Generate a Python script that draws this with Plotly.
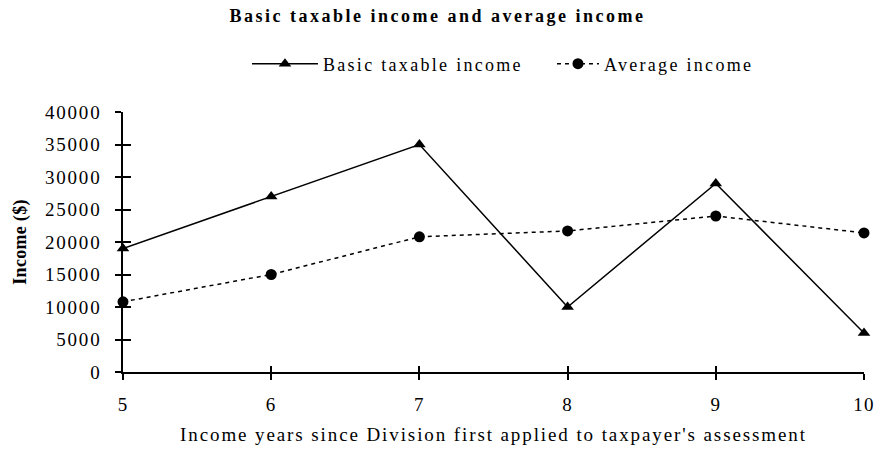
import plotly.graph_objects as go

years = [5, 6, 7, 8, 9, 10]
basic_taxable = [19000, 27000, 35000, 10000, 29000, 6000]
average_income = [10800, 15000, 20800, 21700, 24000, 21400]
y_ticks = [0, 5000, 10000, 15000, 20000, 25000, 30000, 35000, 40000]

title_text = "Basic taxable income and average income"
x_title_text = "Income years since Division first applied to taxpayer's assessment"
y_title_text = "Income ($)"
series_names = ["Basic taxable income", "Average income"]

serif = "Liberation Serif, Times New Roman, serif"


def spaced(text, px):
    """Wrap a label so it renders with extra letter spacing."""
    return f'<span style="letter-spacing:{px}px">{text}</span>'


fig = go.Figure()
fig.add_trace(go.Scatter(
    x=years, y=basic_taxable, name=spaced(series_names[0], 2.3),
    mode="lines+markers",
    line=dict(color="black", width=1.5),
    marker=dict(symbol="triangle-up", size=11, color="black"),
    cliponaxis=False, legend="legend",
))
fig.add_trace(go.Scatter(
    x=years, y=average_income, name=spaced(series_names[1], 2.3),
    mode="lines+markers",
    line=dict(color="black", width=1.5, dash="4px,4px"),
    marker=dict(symbol="circle", size=11, color="black"),
    cliponaxis=False, legend="legend2",
))
# empty trace so the overlay axes (inner tick halves) get drawn
fig.add_trace(go.Scatter(x=[], y=[], xaxis="x2", yaxis="y2",
                         showlegend=False, hoverinfo="skip"))

tick_font = dict(family=serif, size=19, color="black")
axis_common = dict(showgrid=False, zeroline=False, showline=True,
                   linecolor="black", linewidth=1.5,
                   tickcolor="black", tickwidth=1.5, ticklen=6,
                   tickfont=tick_font, automargin=False)

legend_common = dict(orientation="h", xanchor="left", y=1.1846, yanchor="middle",
                     font=dict(family=serif, size=18, color="black"),
                     bgcolor="rgba(0,0,0,0)")

fig.update_layout(
    width=875, height=451,
    margin=dict(l=123, r=11, t=112, b=79),
    paper_bgcolor="white", plot_bgcolor="white",
    showlegend=True,
    title=dict(text=spaced(f"<b>{title_text}</b>", 2.5),
               x=0.5, xanchor="center", y=1 - 16 / 451, yanchor="middle",
               font=dict(family=serif, size=18, color="black")),
    legend=dict(x=0.1673, itemwidth=66, **legend_common),
    legend2=dict(x=0.5789, itemwidth=42, **legend_common),
    xaxis=dict(range=[5, 10], tickvals=years,
               ticktext=[spaced(str(v), 1.2) for v in years],
               ticks="outside", ticklabelstandoff=8,
               ticklabeloverflow="allow",
               title=dict(text=spaced(x_title_text, 1.9),
                          font=dict(family=serif, size=19, color="black"),
                          standoff=14),
               **axis_common),
    yaxis=dict(range=[0, 40000], tickvals=y_ticks,
               ticktext=[spaced(str(v), 1.8) for v in y_ticks],
               ticks="outside", ticklabelstandoff=10,
               title=dict(text=spaced(f"<b>{y_title_text}</b>", 0.3),
                          font=dict(family=serif, size=18, color="black"),
                          standoff=14),
               **axis_common),
    xaxis2=dict(range=[5, 10], tickvals=years, ticks="inside", overlaying="x",
                showticklabels=False, showgrid=False, zeroline=False,
                tickcolor="black", tickwidth=1.5, ticklen=6, side="bottom"),
    yaxis2=dict(range=[0, 40000], tickvals=y_ticks, ticks="inside", overlaying="y",
                showticklabels=False, showgrid=False, zeroline=False,
                tickcolor="black", tickwidth=1.5, ticklen=8, side="left"),
)

fig.write_html("out.html")
